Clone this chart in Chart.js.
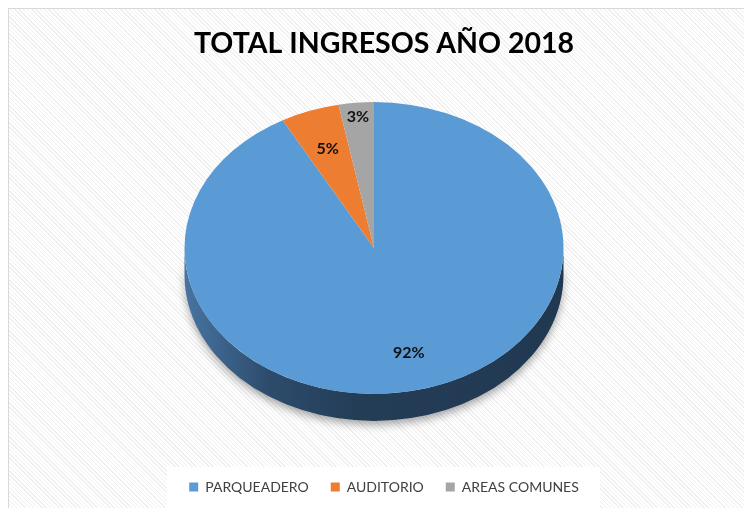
<!DOCTYPE html>
<html>
<head>
  <title>Total ingresos 2018</title>
  <script src="https://cdn.jsdelivr.net/npm/chart.js"></script>
  <style>
    body { margin: 0; background: #fff; }
    /* chart frame with the faint diagonal hatch, runs off the right/bottom edge */
    .frame {
      position: absolute; left: 8px; top: 8px; width: 760px; height: 520px;
      border: 1px solid #d9d9d9;
      background: repeating-linear-gradient(45deg, #ffffff 0 2px, #efefef 2px 3px);
    }
    /* white box behind the legend */
    .legend-bg { position: absolute; left: 167px; top: 467px; width: 433px; height: 45px; background: #fff; }
    .wrap { position: absolute; left: 0; top: 0; width: 744px; height: 508px; }
  </style>
</head>
<body>
  <div class="frame"></div>
  <div class="legend-bg"></div>
  <div class="wrap"><canvas id="pie"></canvas></div>
  <script>
    // --- DATA ---
    const categories = ['PARQUEADERO', 'AUDITORIO', 'AREAS COMUNES'];
    const shares = [92, 5, 3];            // percent of total income
    const sliceColors = ['#5b9bd5', '#ed7d31', '#a5a5a5'];

    // --- fake 3D look: squash the pie into an ellipse and add a dark side ---
    const CX = 374, CY = 248;             // where the top face is centred on screen
    const RADIUS = 189.5;
    const SQUASH = 0.77;                  // vertical scale of the top face
    const DEPTH = 27;                     // side thickness in px
    const labelDist = [0.74, 0.72, 0.9];  // label distance from centre, fraction of radius

    const pie3d = {
      id: 'pie3d',
      beforeDatasetsDraw(chart) {
        const ctx = chart.ctx;
        const arcs = chart.getDatasetMeta(0).data;
        const el = arcs[0];
        ctx.save();
        ctx.translate(CX, CY);
        ctx.scale(1, SQUASH);
        ctx.translate(-el.x, -el.y);
        // side wall, only the front half (0..PI) can be seen
        const d = DEPTH / SQUASH;
        const grad = ctx.createLinearGradient(el.x - RADIUS, 0, el.x + RADIUS, 0);
        grad.addColorStop(0, '#4874a2');
        grad.addColorStop(0.22, '#2d4c6d');
        grad.addColorStop(0.45, '#243d57');
        grad.addColorStop(1, '#213851');
        arcs.forEach(a => {
          const p = a.getProps(['x', 'y', 'startAngle', 'endAngle', 'outerRadius']);
          [0, 2 * Math.PI].forEach(off => {
            const s = Math.max(p.startAngle, off), e = Math.min(p.endAngle, off + Math.PI);
            if (e <= s) return;
            ctx.save();
            ctx.shadowColor = 'rgba(0,0,0,0.35)';
            ctx.shadowBlur = 8;
            ctx.shadowOffsetY = 4;
            ctx.beginPath();
            ctx.arc(p.x, p.y, p.outerRadius, s, e);
            ctx.arc(p.x, p.y + d, p.outerRadius, e, s, true);
            ctx.closePath();
            ctx.fillStyle = grad;
            ctx.fill();
            ctx.restore();
          });
        });
      },
      afterDatasetsDraw(chart) {
        const ctx = chart.ctx;
        ctx.restore();
        // percentage labels on the top face
        const arcs = chart.getDatasetMeta(0).data;
        ctx.save();
        ctx.font = 'bold 16px Lato';
        ctx.fillStyle = '#111';
        ctx.textAlign = 'center';
        ctx.textBaseline = 'middle';
        arcs.forEach((a, i) => {
          const p = a.getProps(['startAngle', 'endAngle', 'outerRadius']);
          const mid = (p.startAngle + p.endAngle) / 2;
          const f = labelDist[i];
          const x = CX + Math.cos(mid) * p.outerRadius * f;
          const y = CY + Math.sin(mid) * p.outerRadius * f * SQUASH;
          ctx.fillText(shares[i] + '%', x, y);
        });
        ctx.restore();
      }
    };

    new Chart(document.getElementById('pie'), {
      type: 'pie',
      data: {
        labels: categories,
        datasets: [{
          data: shares,
          backgroundColor: sliceColors,
          borderWidth: 0,
          radius: RADIUS,
          clip: false
        }]
      },
      options: {
        responsive: true,
        maintainAspectRatio: false,
        animation: false,
        events: [],
        layout: { padding: { left: 24, bottom: 4 } },
        plugins: {
          title: {
            display: true,
            text: 'TOTAL INGRESOS AÑO 2018',
            color: '#000',
            font: { family: 'Lato', size: 28.5, weight: 'bold' },
            padding: { top: 27, bottom: 10 }
          },
          legend: {
            position: 'bottom',
            labels: {
              color: '#404040',
              font: { family: 'Lato', size: 14 },
              boxWidth: 9,
              boxHeight: 9,
              padding: 22
            }
          },
          tooltip: { enabled: false }
        }
      },
      plugins: [pie3d]
    });
  </script>
</body>
</html>
